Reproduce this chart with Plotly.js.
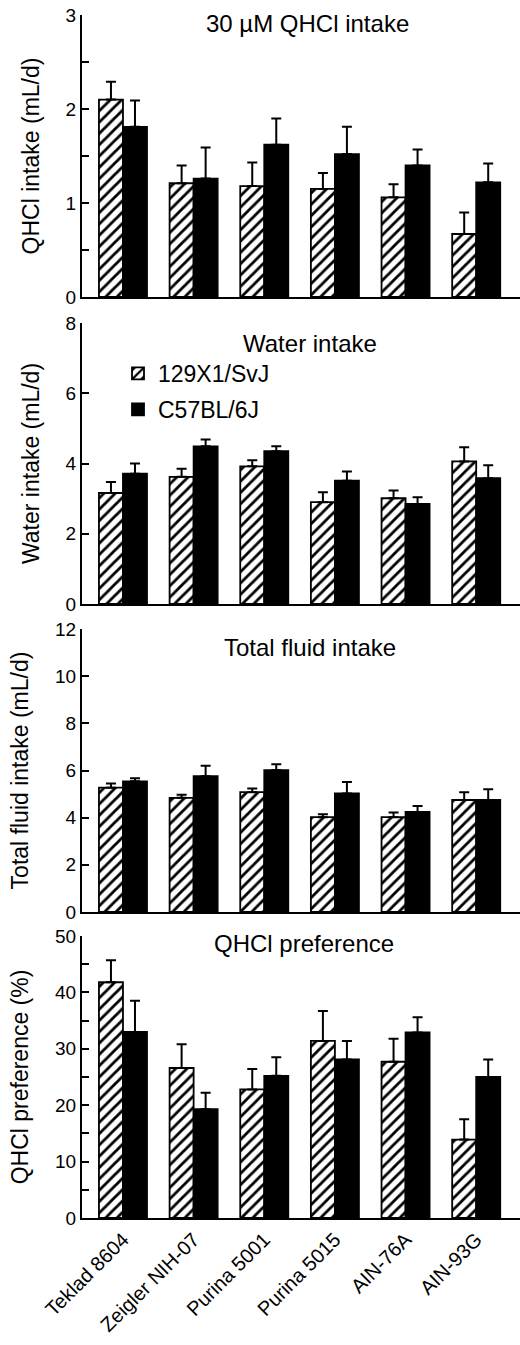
<!DOCTYPE html>
<html>
<head>
<meta charset="utf-8">
<script src="https://cdn.plot.ly/plotly-3.0.1.min.js"></script>
<style>html,body{margin:0;padding:0;background:#fff;}#chart{width:520px;height:1345px;}</style>
</head>
<body>
<div id="chart"></div>
<script>
// ---- data ----
const diets = ["Teklad 8604", "Zeigler NIH-07", "Purina 5001", "Purina 5015", "AIN-76A", "AIN-93G"];
const strains = ["129X1/SvJ", "C57BL/6J"];

const qhclIntake129 = [2.10, 1.21, 1.18, 1.15, 1.06, 0.67];
const qhclIntake129Sem = [0.19, 0.19, 0.25, 0.17, 0.14, 0.23];
const qhclIntakeB6 = [1.81, 1.26, 1.62, 1.52, 1.40, 1.22];
const qhclIntakeB6Sem = [0.28, 0.33, 0.28, 0.29, 0.17, 0.20];

const water129 = [3.16, 3.62, 3.92, 2.90, 3.01, 4.06];
const water129Sem = [0.31, 0.23, 0.17, 0.28, 0.22, 0.40];
const waterB6 = [3.71, 4.49, 4.35, 3.51, 2.85, 3.58];
const waterB6Sem = [0.29, 0.19, 0.14, 0.26, 0.19, 0.37];

const total129 = [5.27, 4.84, 5.08, 4.02, 4.02, 4.75];
const total129Sem = [0.18, 0.13, 0.16, 0.13, 0.20, 0.33];
const totalB6 = [5.54, 5.76, 6.02, 5.03, 4.24, 4.75];
const totalB6Sem = [0.13, 0.44, 0.24, 0.48, 0.25, 0.46];

const pref129 = [41.8, 26.6, 22.8, 31.4, 27.7, 13.9];
const pref129Sem = [3.9, 4.2, 3.6, 5.3, 4.1, 3.6];
const prefB6 = [33.0, 19.3, 25.2, 28.1, 32.9, 25.0];
const prefB6Sem = [5.5, 2.9, 3.3, 3.3, 2.7, 3.1];

const panelTitles = ["30 µM QHCl intake", "Water intake", "Total fluid intake", "QHCl preference"];
const yTitles = ["QHCl intake (mL/d)", "Water intake (mL/d)", "Total fluid intake (mL/d)", "QHCl preference (%)"];

// ---- build ----
const FONT = "Liberation Sans, Arial, Helvetica, sans-serif";
const H = 1345;
const panels = [
  {a: qhclIntake129, ae: qhclIntake129Sem, b: qhclIntakeB6, be: qhclIntakeB6Sem, range: [0, 3], dtick: 1, minor: 0.5, top: 15, bot: 297, tx: 307, ty: 23},
  {a: water129, ae: water129Sem, b: waterB6, be: waterB6Sem, range: [0, 8], dtick: 2, minor: null, top: 323, bot: 604, tx: 310, ty: 343},
  {a: total129, ae: total129Sem, b: totalB6, be: totalB6Sem, range: [0, 12], dtick: 2, minor: null, top: 629, bot: 912, tx: 310, ty: 648},
  {a: pref129, ae: pref129Sem, b: prefB6, be: prefB6Sem, range: [0, 50], dtick: 10, minor: 5, top: 936, bot: 1218, tx: 304, ty: 943}
];

const L = 82, W = 520 - 82;
const traces = [];
const layout = {
  width: 520, height: H,
  margin: {l: L, r: 0, t: 0, b: 0},
  paper_bgcolor: "#fff", plot_bgcolor: "#fff",
  font: {family: FONT, color: "#000", size: 19},
  barmode: "group", bargap: 0.32, bargroupgap: 0,
  showlegend: true,
  legend: {x: (118 - L) / W, y: 1 - 352 / H, xanchor: "left", yanchor: "top",
           font: {size: 23, family: FONT}, bgcolor: "rgba(0,0,0,0)",
           traceorder: "grouped", tracegroupgap: 3, itemwidth: 30},
  annotations: []
};

panels.forEach((p, i) => {
  const n = i === 0 ? "" : String(i + 1);
  const xa = "x" + n, ya = "y" + n;
  const zerosA = p.ae.map(() => 0), zerosB = p.be.map(() => 0);
  traces.push({
    type: "bar", x: diets, y: p.a, name: strains[0], xaxis: xa, yaxis: ya,
    legendgroup: "s129", showlegend: i === 1,
    marker: {color: "#fff", line: {color: "#000", width: 1.8},
             pattern: {shape: "/", fgcolor: "#000", bgcolor: "#fff", size: 8, solidity: 0.35}},
    error_y: {type: "data", symmetric: false, array: p.ae, arrayminus: zerosA, color: "#000", thickness: 2, width: 5}
  });
  traces.push({
    type: "bar", x: diets, y: p.b, name: strains[1], xaxis: xa, yaxis: ya,
    legendgroup: "sb6", showlegend: i === 1,
    marker: {color: "#000", line: {color: "#000", width: 1.8}},
    error_y: {type: "data", symmetric: false, array: p.be, arrayminus: zerosB, color: "#000", thickness: 2, width: 5}
  });
  layout["xaxis" + n] = {
    anchor: ya, domain: [0, 1], type: "category", range: [-0.58, 5.62],
    showline: true, linewidth: 2, linecolor: "#000", ticks: "", showgrid: false, zeroline: false,
    showticklabels: i === 3, tickangle: -45, tickfont: {size: 20, family: FONT},
    categoryorder: "array", categoryarray: diets
  };
  const yax = {
    anchor: xa, domain: [1 - p.bot / H, 1 - p.top / H], range: p.range, dtick: p.dtick,
    showline: true, linewidth: 2, linecolor: "#000", showgrid: false, zeroline: false,
    ticks: "inside", ticklen: 7, tickwidth: 2, tickcolor: "#000",
    tickfont: {size: 19, family: FONT},
    title: {text: yTitles[i], font: {size: 23, family: FONT}, standoff: 20}
  };
  if (p.minor) yax.minor = {dtick: p.minor, ticks: "inside", ticklen: 7, tickwidth: 2, tickcolor: "#000", showgrid: false};
  layout["yaxis" + n] = yax;
  layout.annotations.push({
    xref: "paper", yref: "paper", x: (p.tx - L) / W, y: 1 - p.ty / H,
    xanchor: "center", yanchor: "middle", showarrow: false,
    text: panelTitles[i], font: {size: 24, family: FONT}
  });
});

Plotly.newPlot("chart", traces, layout, {displayModeBar: false, staticPlot: true});
</script>
</body>
</html>
